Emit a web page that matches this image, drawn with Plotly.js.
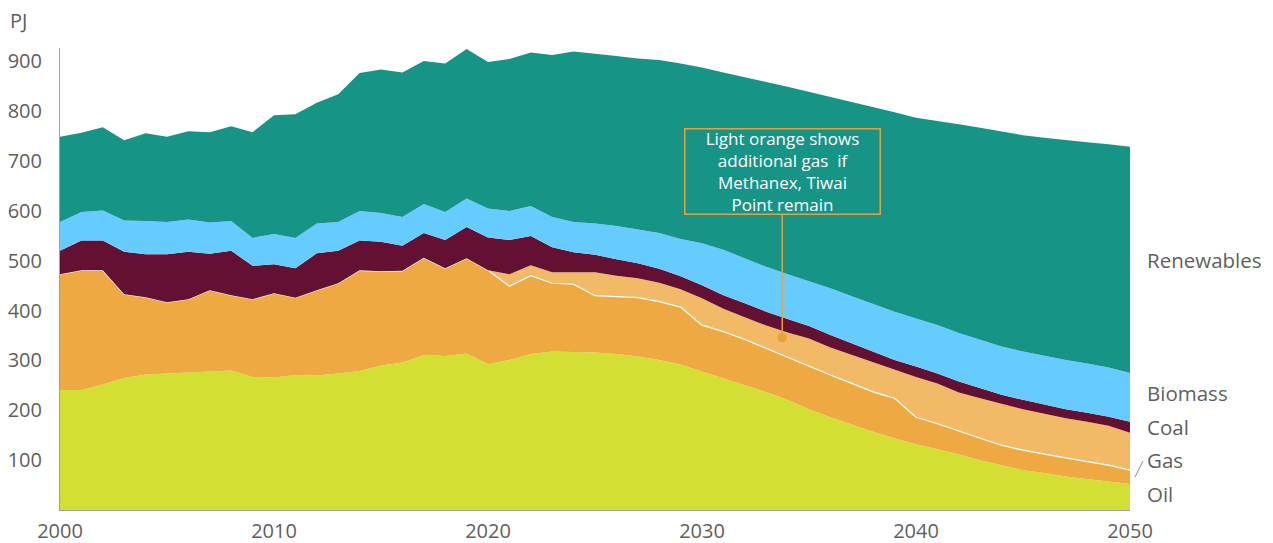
<!DOCTYPE html>
<html>
<head>
<meta charset="utf-8">
<script src="https://cdn.plot.ly/plotly-3.0.1.min.js"></script>
<style>
  html, body { margin: 0; padding: 0; background: #ffffff; }
  #chart { width: 1273px; height: 543px; }
</style>
</head>
<body>
<div id="chart"></div>
<script>
// Years 2000..2050
const years = [2000,2001,2002,2003,2004,2005,2006,2007,2008,2009,
  2010,2011,2012,2013,2014,2015,2016,2017,2018,2019,
  2020,2021,2022,2023,2024,2025,2026,2027,2028,2029,
  2030,2031,2032,2033,2034,2035,2036,2037,2038,2039,
  2040,2041,2042,2043,2044,2045,2046,2047,2048,2049,2050];

// Energy by source, PJ (stacked amounts)
const oil = [241,241,252,265,272,274,277,279,280,267,
  266,271,270,274,279,290,296,311,309,314,
  293,301,313,318,317,316,313,308,301,292,
  278,264,251,237,221,202,186,171,157,144,
  132,122,112,100,90,80,74,67,62,57,52];

const gas = [232,240,229,168,155,143,146,162,151,156,
  169,155,171,181,202,189,184,195,176,191,
  188,148,157,137,136,114,115,118,117,115,
  93,94,91,87,86,86,85,83,80,80,
  54,51,46,44,40,40,38,37,35,33,28];

const gasExtra = [0,0,0,0,0,0,0,0,0,0,
  0,0,0,0,0,0,0,0,0,0,
  0,24,21,22,24,47,42,39,38,36,
  54,46,45,46,49,56,55,57,59,57,
  81,81,78,80,83,82,81,80,80,79,75];

const coal = [47,60,60,85,86,96,95,73,89,67,
  58,59,74,65,60,59,50,50,57,63,
  66,69,59,50,40,35,33,30,28,26,
  26,27,28,28,27,25,25,23,22,20,
  21,20,22,20,18,19,18,18,18,18,22];

const biomass = [58,57,60,63,67,65,65,63,60,56,
  61,61,60,58,59,58,58,58,56,57,
  58,58,60,61,61,63,67,68,72,75,
  84,91,90,90,90,90,94,95,95,97,
  96,97,97,98,97,97,98,99,99,99,98];

const renewables = [171,159,167,161,176,171,177,181,190,212,
  238,248,242,256,277,288,290,287,298,300,
  294,305,308,325,342,341,341,343,347,352,
  353,356,364,371,376,380,384,389,396,400,
  403,410,419,425,431,434,438,441,444,448,454];

const seriesNames = ['Oil','Gas','Additional gas','Coal','Biomass','Renewables'];
const seriesColors = ['#D4DF33','#EFA942','#F2BA66','#641032','#66CCFF','#169486'];
const seriesData = [oil, gas, gasExtra, coal, biomass, renewables];

const xTicks = [2000,2010,2020,2030,2040,2050];
const yTicks = [100,200,300,400,500,600,700,800,900];

const FONT = '"Open Sans", "Noto Sans", sans-serif';
const GREY = '#5f5f5f';

const traces = seriesData.map((vals, i) => ({
  type: 'scatter',
  mode: 'lines',
  x: years,
  y: vals,
  name: seriesNames[i],
  stackgroup: 'one',
  fillcolor: seriesColors[i],
  line: seriesNames[i] === 'Gas'
    ? {color: '#ffffff', width: 1.2}
    : {color: seriesColors[i], width: 0},
  hoverinfo: 'skip',
  showlegend: false
}));

// plot-area pixel helpers for label placement
const L = 60, R = 143, T = 48, B = 33, W = 1273, H = 543;
const pw = W - L - R, ph = H - T - B;
const px = v => (v - L) / pw;
const py = v => (H - B - v) / ph;

const rightLabels = [
  {text: 'Renewables', y: 260},
  {text: 'Biomass', y: 393},
  {text: 'Coal', y: 427},
  {text: 'Gas', y: 460},
  {text: 'Oil', y: 494}
];

const annotations = rightLabels.map(l => ({
  xref: 'paper', yref: 'paper',
  x: px(1145), y: py(l.y),
  xanchor: 'left', yanchor: 'middle',
  text: l.text, showarrow: false,
  font: {family: FONT, size: 20.5, color: GREY}
}));

annotations.push({
  xref: 'paper', yref: 'paper',
  x: px(8), y: py(20),
  xanchor: 'left', yanchor: 'middle',
  text: 'PJ', showarrow: false,
  font: {family: FONT, size: 20, color: GREY}
});

annotations.push({
  xref: 'x', yref: 'y',
  x: 2033.75, y: 346,
  ax: 0, ay: -166,
  axref: 'pixel', ayref: 'pixel',
  text: 'Light orange shows<br>additional gas  if<br>Methanex, Tiwai<br>Point remain',
  showarrow: true,
  arrowhead: 6,
  arrowsize: 1.6,
  arrowwidth: 1.5,
  arrowcolor: '#E9A23B',
  bordercolor: '#E9A23B',
  borderwidth: 1.5,
  borderpad: 2,
  bgcolor: 'rgba(0,0,0,0)',
  width: 190,
  height: 80,
  align: 'center',
  font: {family: FONT, size: 17, color: '#ffffff'}
});

const shapes = [{
  type: 'line', xref: 'paper', yref: 'paper',
  x0: px(1135), y0: py(477), x1: px(1143), y1: py(461),
  line: {color: '#8a8a8a', width: 1}
}];

const layout = {
  width: W, height: H,
  margin: {l: L, r: R, t: T, b: B, pad: 0},
  paper_bgcolor: '#ffffff',
  plot_bgcolor: '#ffffff',
  font: {family: FONT, color: GREY, size: 20},
  showlegend: false,
  xaxis: {
    range: [2000, 2050],
    tickvals: xTicks,
    ticktext: xTicks.map(String),
    showgrid: false, zeroline: false,
    showline: true, linecolor: '#a0a0a0', linewidth: 1,
    ticks: '', ticklabelstandoff: 3,
    tickfont: {family: FONT, size: 20, color: GREY}
  },
  yaxis: {
    range: [0, 927],
    tickvals: yTicks,
    ticktext: yTicks.map(String),
    showgrid: false, zeroline: false,
    showline: true, linecolor: '#a0a0a0', linewidth: 1,
    ticks: '', ticklabelstandoff: 13,
    tickfont: {family: FONT, size: 20, color: GREY}
  },
  annotations: annotations,
  shapes: shapes
};

Plotly.newPlot('chart', traces, layout, {staticPlot: true, displayModeBar: false});
</script>
</body>
</html>
